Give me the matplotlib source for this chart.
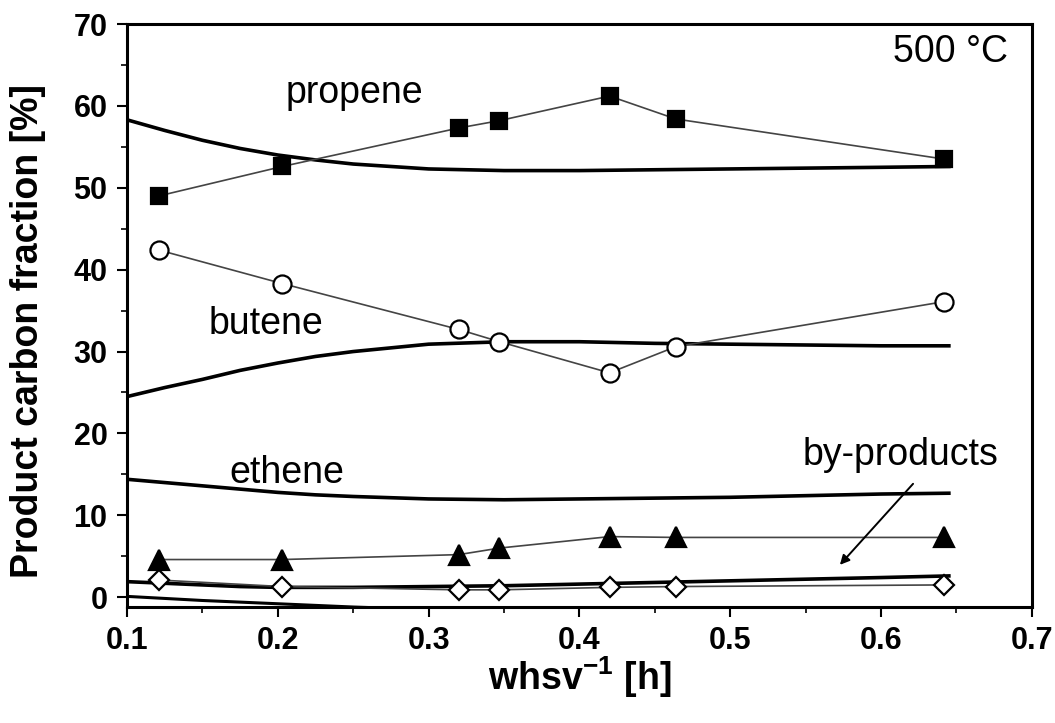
import matplotlib.pyplot as plt
from matplotlib.ticker import MultipleLocator

plt.rcParams['font.family'] = ['Liberation Sans', 'DejaVu Sans']
plt.rcParams['mathtext.fontset'] = 'custom'
plt.rcParams['mathtext.rm'] = 'Liberation Sans'
plt.rcParams['mathtext.bf'] = 'Liberation Sans:bold'

# measured product fractions (symbols)
whsv_inv = [0.121, 0.203, 0.32, 0.347, 0.42, 0.464, 0.642]
propene = [49.0, 52.6, 57.3, 58.2, 61.2, 58.4, 53.5]
butene = [42.4, 38.3, 32.7, 31.2, 27.4, 30.6, 36.1]
ethene = [4.6, 4.6, 5.2, 6.0, 7.4, 7.3, 7.3]
byproducts = [2.1, 1.3, 0.9, 0.9, 1.2, 1.3, 1.5]

# model curves (thick lines)
model_x = [0.1, 0.125, 0.15, 0.175, 0.2, 0.225, 0.25, 0.3, 0.35, 0.4, 0.45, 0.5, 0.55, 0.6, 0.645]
propene_model = [58.3, 57.0, 55.8, 54.8, 54.0, 53.4, 52.9, 52.3, 52.1, 52.1, 52.2, 52.3, 52.4, 52.5, 52.6]
butene_model = [24.5, 25.6, 26.6, 27.7, 28.6, 29.4, 30.0, 30.9, 31.2, 31.2, 31.0, 30.9, 30.8, 30.7, 30.7]
ethene_model = [14.4, 14.0, 13.6, 13.2, 12.8, 12.5, 12.3, 12.0, 11.9, 12.0, 12.1, 12.2, 12.4, 12.6, 12.7]
byprod_model = [1.9, 1.7, 1.5, 1.3, 1.2, 1.2, 1.2, 1.3, 1.4, 1.6, 1.8, 2.0, 2.2, 2.4, 2.6]
low_model_x = [0.1, 0.15, 0.2, 0.25, 0.3]
low_model = [0.1, -0.4, -0.8, -1.2, -1.5]

x_ticks = [0.1, 0.2, 0.3, 0.4, 0.5, 0.6, 0.7]
x_ticklabels = ['0.1', '0.2', '0.3', '0.4', '0.5', '0.6', '0.7']

fig = plt.figure(figsize=(10.55, 7.23), dpi=100)
ax = fig.add_axes([0.1204, 0.1604, 0.8576, 0.8064])

thin = dict(color='#444444', lw=1.2, markeredgecolor='black', markeredgewidth=1.6)
ax.plot(whsv_inv, propene, marker='s', markersize=12, markerfacecolor='black', **thin)
ax.plot(whsv_inv, butene, marker='o', markersize=13, markerfacecolor='white', **thin)
ax.plot(whsv_inv, ethene, marker='^', markersize=15, markerfacecolor='black', **thin)
ax.plot(whsv_inv, byproducts, marker='D', markersize=10, markerfacecolor='white', **thin)

for curve in (propene_model, butene_model, ethene_model, byprod_model):
    ax.plot(model_x, curve, color='black', lw=2.6, zorder=1)
ax.plot(low_model_x, low_model, color='black', lw=2.2, zorder=1)

ax.set_xticks(x_ticks)
ax.set_xticklabels(x_ticklabels)
ax.xaxis.set_minor_locator(MultipleLocator(0.05))
ax.yaxis.set_major_locator(MultipleLocator(10))
ax.yaxis.set_minor_locator(MultipleLocator(5))
ax.set_xlim(0.1, 0.7)
ax.set_ylim(-1.2, 70)
ax.tick_params(which='major', direction='out', length=7, width=1.5, pad=7)
ax.tick_params(which='minor', direction='out', length=4, width=1.2)
for lab in ax.get_xticklabels() + ax.get_yticklabels():
    lab.set_fontweight('bold')
    lab.set_fontsize(22)
for sp in ax.spines.values():
    sp.set_linewidth(2.2)

ax.set_ylabel('Product carbon fraction [%]', fontsize=27, fontweight='bold')
ax.yaxis.set_label_coords(-0.09, 0.473)
ax.set_xlabel(r'whsv$^{\mathbf{-1}}$ [h]', fontsize=27, fontweight='bold')
ax.xaxis.set_label_coords(0.50, -0.082)

ax.text(0.2505, 60.4, 'propene', fontsize=27, ha='center', va='baseline')
ax.text(0.192, 32.1, 'butene', fontsize=27, ha='center', va='baseline')
ax.text(0.206, 14.0, 'ethene', fontsize=27, ha='center', va='baseline')
ax.text(0.678, 16.2, 'by-products', fontsize=27, ha='right', va='baseline')
ax.text(0.684, 65.4, '500 °C', fontsize=27, ha='right', va='baseline')
ax.annotate('', xy=(0.5715, 3.7), xytext=(0.6225, 14.1),
            arrowprops=dict(arrowstyle='-|>', color='black', lw=1.4,
                            mutation_scale=14))

fig.savefig('out.png', dpi=100)
